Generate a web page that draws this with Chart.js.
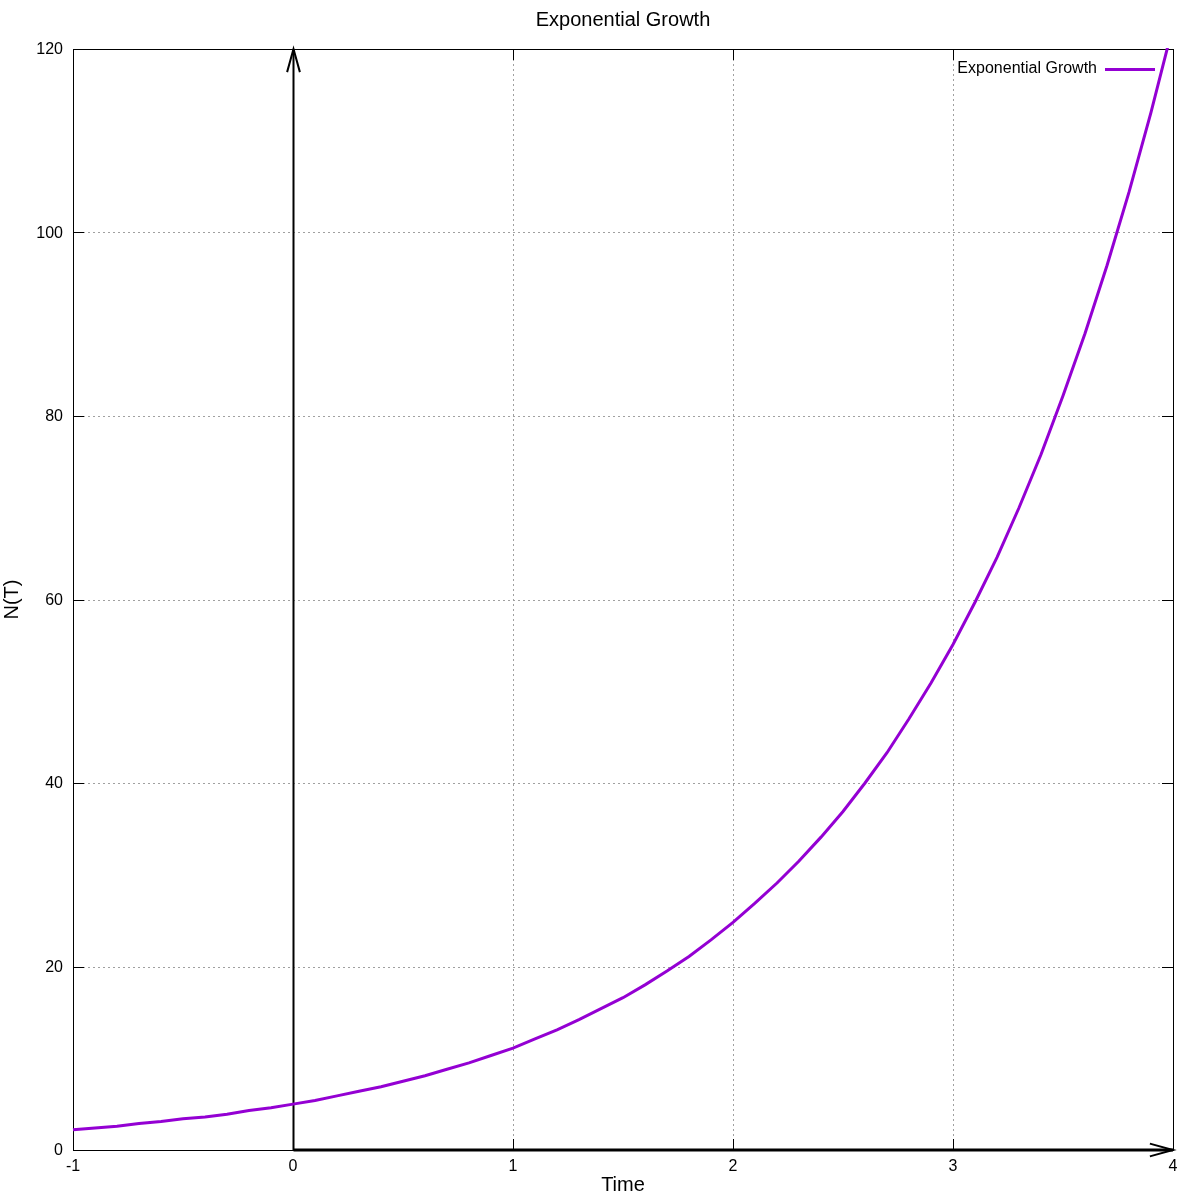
<!DOCTYPE html>
<html>
<head>
<meta charset="utf-8">
<title>Exponential Growth</title>
<script src="https://cdn.jsdelivr.net/npm/chart.js@4"></script>
<style>
  html, body { margin: 0; padding: 0; background: #fff; }
  #wrap { width: 1200px; height: 1200px; }
</style>
</head>
<body>
<div id="wrap"><canvas id="chart" width="1200" height="1200"></canvas></div>
<script>
// values
const times = [-1, -0.9, -0.8, -0.7, -0.6, -0.5, -0.4, -0.3, -0.2, -0.1,
  0, 0.1, 0.2, 0.3, 0.4, 0.5, 0.6, 0.7, 0.8, 0.9,
  1, 1.1, 1.2, 1.3, 1.4, 1.5, 1.6, 1.7, 1.8, 1.9,
  2, 2.1, 2.2, 2.3, 2.4, 2.5, 2.6, 2.7, 2.8, 2.9,
  3, 3.1, 3.2, 3.3, 3.4, 3.5, 3.6, 3.7, 3.8, 3.9, 4];
const growth = [2.2, 2.4, 2.6, 2.9, 3.1, 3.4, 3.6, 3.9, 4.3, 4.6,
  5.0, 5.4, 5.9, 6.4, 6.9, 7.5, 8.1, 8.8, 9.5, 10.3,
  11.1, 12.1, 13.1, 14.2, 15.4, 16.6, 18.0, 19.5, 21.1, 22.9,
  24.8, 26.9, 29.1, 31.5, 34.1, 36.9, 40.0, 43.3, 47.0, 50.9,
  55.1, 59.7, 64.6, 70.0, 75.8, 82.2, 89.0, 96.4, 104.4, 113.1, 122.5];
const xTicks = [-1, 0, 1, 2, 3, 4];
const yTicks = [0, 20, 40, 60, 80, 100, 120];

const seriesName = 'Exponential Growth';
const chartTitle = 'Exponential Growth';
const purple = '#9400d3';
const font = '"Liberation Sans", Arial, sans-serif';

const points = times.map((t, i) => ({ x: t, y: growth[i] }));

function arrow(ctx, x1, y1, x2, y2, width) {
  const ang = Math.atan2(y2 - y1, x2 - x1);
  const len = 24, spread = 0.27;
  ctx.save();
  ctx.strokeStyle = '#000';
  ctx.lineWidth = width;
  ctx.beginPath();
  ctx.moveTo(x1, y1);
  ctx.lineTo(x2, y2);
  ctx.stroke();
  ctx.lineWidth = 2;
  ctx.beginPath();
  ctx.moveTo(x2 - len * Math.cos(ang - spread), y2 - len * Math.sin(ang - spread));
  ctx.lineTo(x2, y2);
  ctx.lineTo(x2 - len * Math.cos(ang + spread), y2 - len * Math.sin(ang + spread));
  ctx.stroke();
  ctx.restore();
}

// gnuplot style frame: dotted grid, mirrored inward ticks, axis arrows
const framePlugin = {
  id: 'frame',
  beforeDatasetsDraw(chart) {
    const { ctx, chartArea: a, scales } = chart;
    const x = scales.x, y = scales.y;
    ctx.save();
    ctx.strokeStyle = '#a0a0a0';
    ctx.lineWidth = 1;
    ctx.setLineDash([2, 3]);
    xTicks.forEach(v => {
      if (v === 0) return;
      const px = Math.round(x.getPixelForValue(v)) + 0.5;
      ctx.beginPath();
      ctx.moveTo(px, a.top);
      ctx.lineTo(px, a.bottom);
      ctx.stroke();
    });
    yTicks.forEach(v => {
      if (v === 0) return;
      const py = Math.round(y.getPixelForValue(v)) + 0.5;
      ctx.beginPath();
      ctx.moveTo(a.left, py);
      ctx.lineTo(a.right, py);
      ctx.stroke();
    });
    ctx.setLineDash([]);
    ctx.strokeStyle = '#000';
    ctx.strokeRect(a.left + 0.5, a.top + 0.5, a.right - a.left, a.bottom - a.top);
    const tl = 11;
    ctx.beginPath();
    xTicks.forEach(v => {
      const px = Math.round(x.getPixelForValue(v)) + 0.5;
      ctx.moveTo(px, a.bottom); ctx.lineTo(px, a.bottom - tl);
      ctx.moveTo(px, a.top); ctx.lineTo(px, a.top + tl);
    });
    yTicks.forEach(v => {
      const py = Math.round(y.getPixelForValue(v)) + 0.5;
      ctx.moveTo(a.left, py); ctx.lineTo(a.left + tl, py);
      ctx.moveTo(a.right, py); ctx.lineTo(a.right - tl, py);
    });
    ctx.stroke();
    ctx.restore();

    const x0 = Math.round(x.getPixelForValue(0)) + 0.5;
    const y0 = Math.round(y.getPixelForValue(0));
    arrow(ctx, x0, y0, x0, y.getPixelForValue(120), 2);
    arrow(ctx, x0, y0, x.getPixelForValue(4), y0, 3);
  },
  afterDraw(chart) {
    const { ctx, chartArea: a } = chart;
    ctx.save();
    ctx.fillStyle = '#000';
    ctx.font = '20px ' + font;
    ctx.textAlign = 'center';
    ctx.textBaseline = 'middle';
    ctx.fillText(chartTitle, (a.left + a.right) / 2, 20);
    ctx.font = '16px ' + font;
    ctx.textAlign = 'right';
    ctx.fillText(seriesName, 1097, 69);
    ctx.strokeStyle = purple;
    ctx.lineWidth = 3;
    ctx.beginPath();
    ctx.moveTo(1105, 69.5);
    ctx.lineTo(1155, 69.5);
    ctx.stroke();
    ctx.restore();
  }
};

new Chart(document.getElementById('chart'), {
  type: 'line',
  data: {
    datasets: [{
      label: seriesName,
      data: points,
      borderColor: purple,
      borderWidth: 3,
      pointRadius: 0,
      fill: false,
      tension: 0,
      clip: 1
    }]
  },
  options: {
    responsive: false,
    animation: false,
    layout: { padding: { top: 49, right: 27, left: 0, bottom: 0 } },
    plugins: {
      legend: { display: false },
      title: { display: false },
      tooltip: { enabled: false }
    },
    scales: {
      x: {
        type: 'linear',
        min: -1,
        max: 4,
        afterFit: s => { s.height = 50; },
        afterBuildTicks: s => { s.ticks = xTicks.map(v => ({ value: v })); },
        grid: { display: false, drawTicks: false },
        border: { display: false },
        ticks: { color: '#000', padding: 7, font: { family: font, size: 16 } },
        title: { display: true, text: 'Time', color: '#000', padding: { top: 0, bottom: 3 }, font: { family: font, size: 20 } }
      },
      y: {
        type: 'linear',
        min: 0,
        max: 120,
        afterFit: s => { s.width = 73; },
        afterBuildTicks: s => { s.ticks = yTicks.map(v => ({ value: v })); },
        grid: { display: false, drawTicks: false },
        border: { display: false },
        ticks: { color: '#000', padding: 10, labelOffset: 1, font: { family: font, size: 16 } },
        title: { display: true, text: 'N(T)', color: '#000', padding: 0, font: { family: font, size: 20 } }
      }
    }
  },
  plugins: [framePlugin]
});
</script>
</body>
</html>
